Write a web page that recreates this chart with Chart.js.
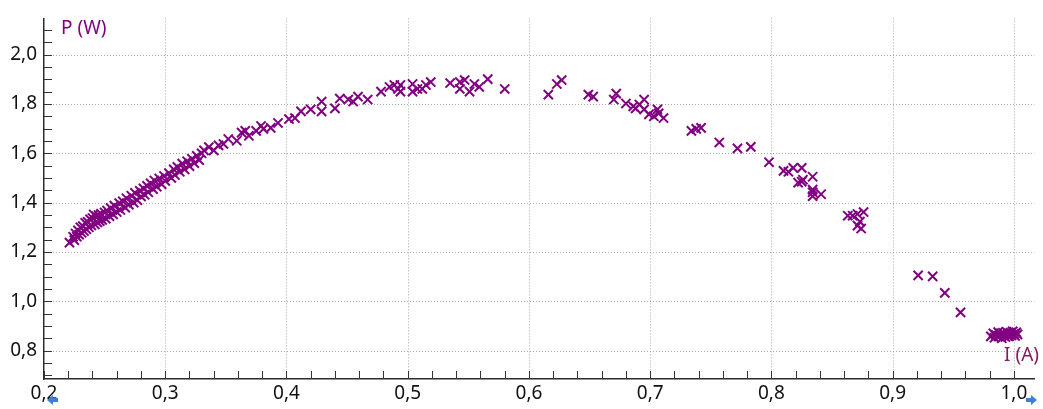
<!DOCTYPE html>
<html>
<head>
<meta charset="utf-8">
<script src="https://cdn.jsdelivr.net/npm/chart.js@4.4.1/dist/chart.umd.min.js"></script>
<style>
  html, body { margin: 0; padding: 0; background: #fff; }
  #wrap { width: 1043px; height: 409px; }
</style>
</head>
<body>
<div id="wrap"><canvas id="scatterChart"></canvas></div>
<script>
// current (A) and power (W)
var currentA = [
    0.221, 0.224, 0.225, 0.226, 0.227, 0.228, 0.229, 0.230, 0.231, 0.232, 0.233, 0.234, 0.235, 0.236, 0.237, 0.238,
    0.239, 0.240, 0.241, 0.242, 0.243, 0.244, 0.245, 0.246, 0.247, 0.248, 0.250, 0.251, 0.252, 0.254, 0.255, 0.257,
    0.258, 0.260, 0.262, 0.263, 0.265, 0.267, 0.268, 0.270, 0.272, 0.274, 0.275, 0.277, 0.279, 0.280, 0.282, 0.283,
    0.285, 0.286, 0.288, 0.290, 0.291, 0.293, 0.295, 0.297, 0.299, 0.300, 0.303, 0.305, 0.307, 0.308, 0.310, 0.312,
    0.314, 0.316, 0.318, 0.320, 0.322, 0.324, 0.326, 0.328, 0.330, 0.332, 0.336, 0.340, 0.344, 0.348, 0.352, 0.359,
    0.363, 0.366, 0.369, 0.375, 0.379, 0.381, 0.387, 0.393, 0.402, 0.407, 0.412, 0.420, 0.429, 0.429, 0.440, 0.444,
    0.451, 0.455, 0.459, 0.467, 0.478, 0.485, 0.489, 0.492, 0.494, 0.494, 0.504, 0.504, 0.508, 0.512, 0.515, 0.519,
    0.535, 0.543, 0.543, 0.547, 0.551, 0.555, 0.559, 0.566, 0.580, 0.616, 0.623, 0.627, 0.649, 0.653, 0.670, 0.672,
    0.680, 0.686, 0.688, 0.691, 0.695, 0.695, 0.699, 0.703, 0.706, 0.707, 0.711, 0.734, 0.738, 0.742, 0.757, 0.772,
    0.783, 0.798, 0.810, 0.814, 0.818, 0.825, 0.822, 0.825, 0.826, 0.834, 0.834, 0.834, 0.834, 0.841, 0.863, 0.867,
    0.871, 0.876, 0.871, 0.874, 0.873, 0.921, 0.933, 0.943, 0.956, 0.981, 0.983, 0.984, 0.985, 0.987, 0.988, 0.989,
    0.990, 0.991, 0.992, 0.993, 0.994, 0.995, 0.996, 0.997, 0.998, 0.999, 1.000, 1.001, 1.002, 1.003
];
var powerW = [
    1.238, 1.262, 1.248, 1.275, 1.262, 1.288, 1.270, 1.300, 1.278, 1.305, 1.285, 1.318, 1.292, 1.322, 1.300, 1.332,
    1.308, 1.338, 1.352, 1.312, 1.345, 1.320, 1.350, 1.325, 1.355, 1.330, 1.360, 1.335, 1.368, 1.345, 1.378, 1.352,
    1.388, 1.362, 1.398, 1.370, 1.405, 1.380, 1.418, 1.392, 1.428, 1.400, 1.440, 1.410, 1.448, 1.425, 1.458, 1.432,
    1.468, 1.442, 1.478, 1.455, 1.490, 1.465, 1.498, 1.475, 1.508, 1.488, 1.520, 1.500, 1.535, 1.512, 1.545, 1.525,
    1.558, 1.535, 1.568, 1.548, 1.578, 1.560, 1.590, 1.572, 1.600, 1.612, 1.625, 1.612, 1.632, 1.638, 1.658, 1.651,
    1.684, 1.691, 1.671, 1.691, 1.711, 1.699, 1.703, 1.723, 1.739, 1.743, 1.770, 1.778, 1.810, 1.770, 1.782, 1.822,
    1.818, 1.810, 1.830, 1.818, 1.850, 1.869, 1.877, 1.861, 1.877, 1.850, 1.881, 1.850, 1.861, 1.861, 1.877, 1.889,
    1.885, 1.861, 1.889, 1.897, 1.850, 1.881, 1.869, 1.901, 1.861, 1.838, 1.881, 1.897, 1.838, 1.830, 1.818, 1.842,
    1.802, 1.790, 1.782, 1.798, 1.818, 1.778, 1.758, 1.750, 1.778, 1.762, 1.743, 1.691, 1.699, 1.703, 1.644, 1.620,
    1.626, 1.564, 1.529, 1.525, 1.541, 1.541, 1.481, 1.485, 1.493, 1.505, 1.453, 1.442, 1.426, 1.434, 1.347, 1.347,
    1.354, 1.362, 1.307, 1.295, 1.323, 1.105, 1.101, 1.034, 0.955, 0.858, 0.870, 0.852, 0.864, 0.875, 0.858, 0.868,
    0.850, 0.872, 0.862, 0.855, 0.876, 0.866, 0.858, 0.872, 0.862, 0.878, 0.868, 0.860, 0.874, 0.866
];
var xTicks = [0.2, 0.3, 0.4, 0.5, 0.6, 0.7, 0.8, 0.9, 1.0];
var yTicks = [0.8, 1.0, 1.2, 1.4, 1.6, 1.8, 2.0];
var xTitle = 'I (A)';
var yTitle = 'P (W)';

var points = currentA.map(function (v, i) { return { x: v, y: powerW[i] }; });

function commaLabel(v) {
    return Number(v).toFixed(1).replace('.', ',');
}

function drawArrow(c, x, y, dir) {
    c.save();
    c.fillStyle = '#3d80d8';
    c.beginPath();
    c.moveTo(x + dir * 6, y);
    c.lineTo(x, y - 5);
    c.lineTo(x, y - 2);
    c.lineTo(x - dir * 5, y - 2);
    c.lineTo(x - dir * 5, y + 2);
    c.lineTo(x, y + 2);
    c.lineTo(x, y + 5);
    c.closePath();
    c.fill();
    c.restore();
}

// dotted grid under the points
var dottedGrid = {
    id: 'dottedGrid',
    beforeDatasetsDraw: function (chart) {
        var c = chart.ctx;
        var area = chart.chartArea;
        var xs = chart.scales.x, ys = chart.scales.y;
        c.save();
        c.strokeStyle = '#a8a8a8';
        c.lineWidth = 1;
        c.setLineDash([1, 2]);
        c.beginPath();
        xTicks.forEach(function (v) {
            var px = Math.round(xs.getPixelForValue(v)) + 0.5;
            c.moveTo(px, area.top);
            c.lineTo(px, area.bottom);
        });
        yTicks.forEach(function (v) {
            var py = Math.round(ys.getPixelForValue(v)) + 0.5;
            c.moveTo(area.left, py);
            c.lineTo(area.right, py);
        });
        c.stroke();
        c.restore();
    }
};

// minor ticks inside the plot, axis titles and the little arrows
var axisDeco = {
    id: 'axisDeco',
    afterDraw: function (chart) {
        var c = chart.ctx;
        var area = chart.chartArea;
        var xs = chart.scales.x, ys = chart.scales.y;
        c.save();
        c.strokeStyle = '#333';
        c.lineWidth = 1;
        c.beginPath();
        for (var i = 0; i <= 28; i++) {
            var yv = 0.7 + i * 0.05;
            var py = Math.round(ys.getPixelForValue(yv)) + 0.5;
            c.moveTo(area.left, py);
            c.lineTo(area.left + 8, py);
        }
        for (var j = 0; j <= 40; j++) {
            var xv = 0.2 + j * 0.02;
            var px = Math.round(xs.getPixelForValue(xv)) + 0.5;
            c.moveTo(px, area.bottom);
            c.lineTo(px, area.bottom - 8);
        }
        c.stroke();

        c.font = '19px "Noto Sans"';
        c.textBaseline = 'alphabetic';
        c.fillStyle = '#800080';
        c.textAlign = 'left';
        c.fillText(yTitle, 61, 34);
        c.fillStyle = '#8a1a5c';
        c.textAlign = 'right';
        c.fillText(xTitle, 1039, 361);
        c.restore();

        drawArrow(c, 53, 400, -1);
        drawArrow(c, 1031, 400, 1);
    }
};

var ctx = document.getElementById('scatterChart').getContext('2d');
var scatterChart = new Chart(ctx, {
    type: 'scatter',
    data: {
        datasets: [{
            label: yTitle,
            data: points,
            pointStyle: 'crossRot',
            pointRadius: 6.5,
            pointBorderWidth: 2,
            borderColor: '#800080',
            backgroundColor: '#800080'
        }]
    },
    options: {
        responsive: true,
        maintainAspectRatio: false,
        animation: false,
        layout: { padding: { top: 10, right: 3, left: 0, bottom: 0 } },
        plugins: {
            legend: { display: false },
            tooltip: { enabled: false }
        },
        scales: {
            x: {
                type: 'linear',
                min: 0.2,
                max: 1.017,
                afterBuildTicks: function (s) { s.ticks = xTicks.map(function (v) { return { value: v }; }); },
                afterFit: function (s) { s.height = 30; },
                ticks: {
                    callback: commaLabel,
                    color: '#111',
                    font: { family: 'Noto Sans', size: 19 },
                    padding: 3,
                    maxRotation: 0,
                    autoSkip: false
                },
                grid: { display: false, drawTicks: false },
                border: { display: true, color: '#2a2a2a', width: 1.5 }
            },
            y: {
                type: 'linear',
                min: 0.685,
                max: 2.147,
                afterBuildTicks: function (s) { s.ticks = yTicks.map(function (v) { return { value: v }; }); },
                afterFit: function (s) { s.width = 44; },
                ticks: {
                    callback: commaLabel,
                    color: '#111',
                    font: { family: 'Noto Sans', size: 19 },
                    padding: 7,
                    autoSkip: false
                },
                grid: { display: false, drawTicks: false },
                border: { display: true, color: '#2a2a2a', width: 1.5 }
            }
        }
    },
    plugins: [dottedGrid, axisDeco]
});
</script>
</body>
</html>
